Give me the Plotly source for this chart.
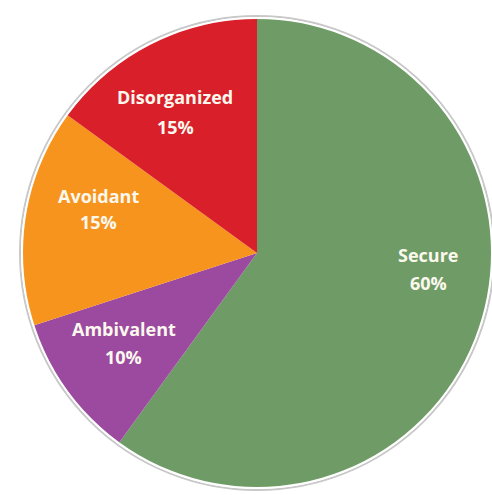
import plotly.graph_objects as go

labels = ["Secure", "Ambivalent", "Avoidant", "Disorganized"]
values = [60, 10, 15, 15]
colors = ["#6f9c66", "#9c4a9f", "#f7941e", "#d91f2a"]

W, H = 492, 495
# pie geometry in pixels
cx, cy, r = 257, 253, 235

fig = go.Figure(go.Pie(
    labels=labels, values=values, sort=False, direction="clockwise", rotation=0,
    marker=dict(colors=colors, line=dict(width=0)),
    textinfo="none", hoverinfo="label+percent", showlegend=False,
    domain=dict(x=[(cx - r) / W, (cx + r) / W], y=[1 - (cy + r) / H, 1 - (cy - r) / H]),
))

# label positions (pixels) for each slice
label_pos = [(428, 255, 283), (124, 329, 357), (98, 196, 222), (175, 97, 127)]
annotations = []
for lab, val, (x, y1, y2) in zip(labels, values, label_pos):
    for txt, y in ((lab, y1), (f"{val}%", y2)):
        annotations.append(dict(
            x=x / W, y=1 - y / H, xref="paper", yref="paper", text=txt, showarrow=False,
            font=dict(family="Open Sans", size=18, color="#fbf8ee", weight="bold"),
            xanchor="center", yanchor="middle"))

shapes = [
    dict(type="circle", xref="paper", yref="paper",
         x0=(cx - r - 2) / W, x1=(cx + r + 2) / W, y0=1 - (cy + r + 2) / H, y1=1 - (cy - r - 2) / H,
         line=dict(color="#c8c8c8", width=2)),
    dict(type="circle", xref="paper", yref="paper",
         x0=(cx - r) / W, x1=(cx + r) / W, y0=1 - (cy + r) / H, y1=1 - (cy - r) / H,
         line=dict(color="#ffffff", width=2)),
]

fig.update_layout(
    width=W, height=H, margin=dict(l=0, r=0, t=0, b=0),
    paper_bgcolor="white", plot_bgcolor="white",
    annotations=annotations, shapes=shapes,
)
fig.write_html("out.html", config={"displayModeBar": False},
               post_script="document.body.style.margin='0';document.body.style.overflow='hidden';")
